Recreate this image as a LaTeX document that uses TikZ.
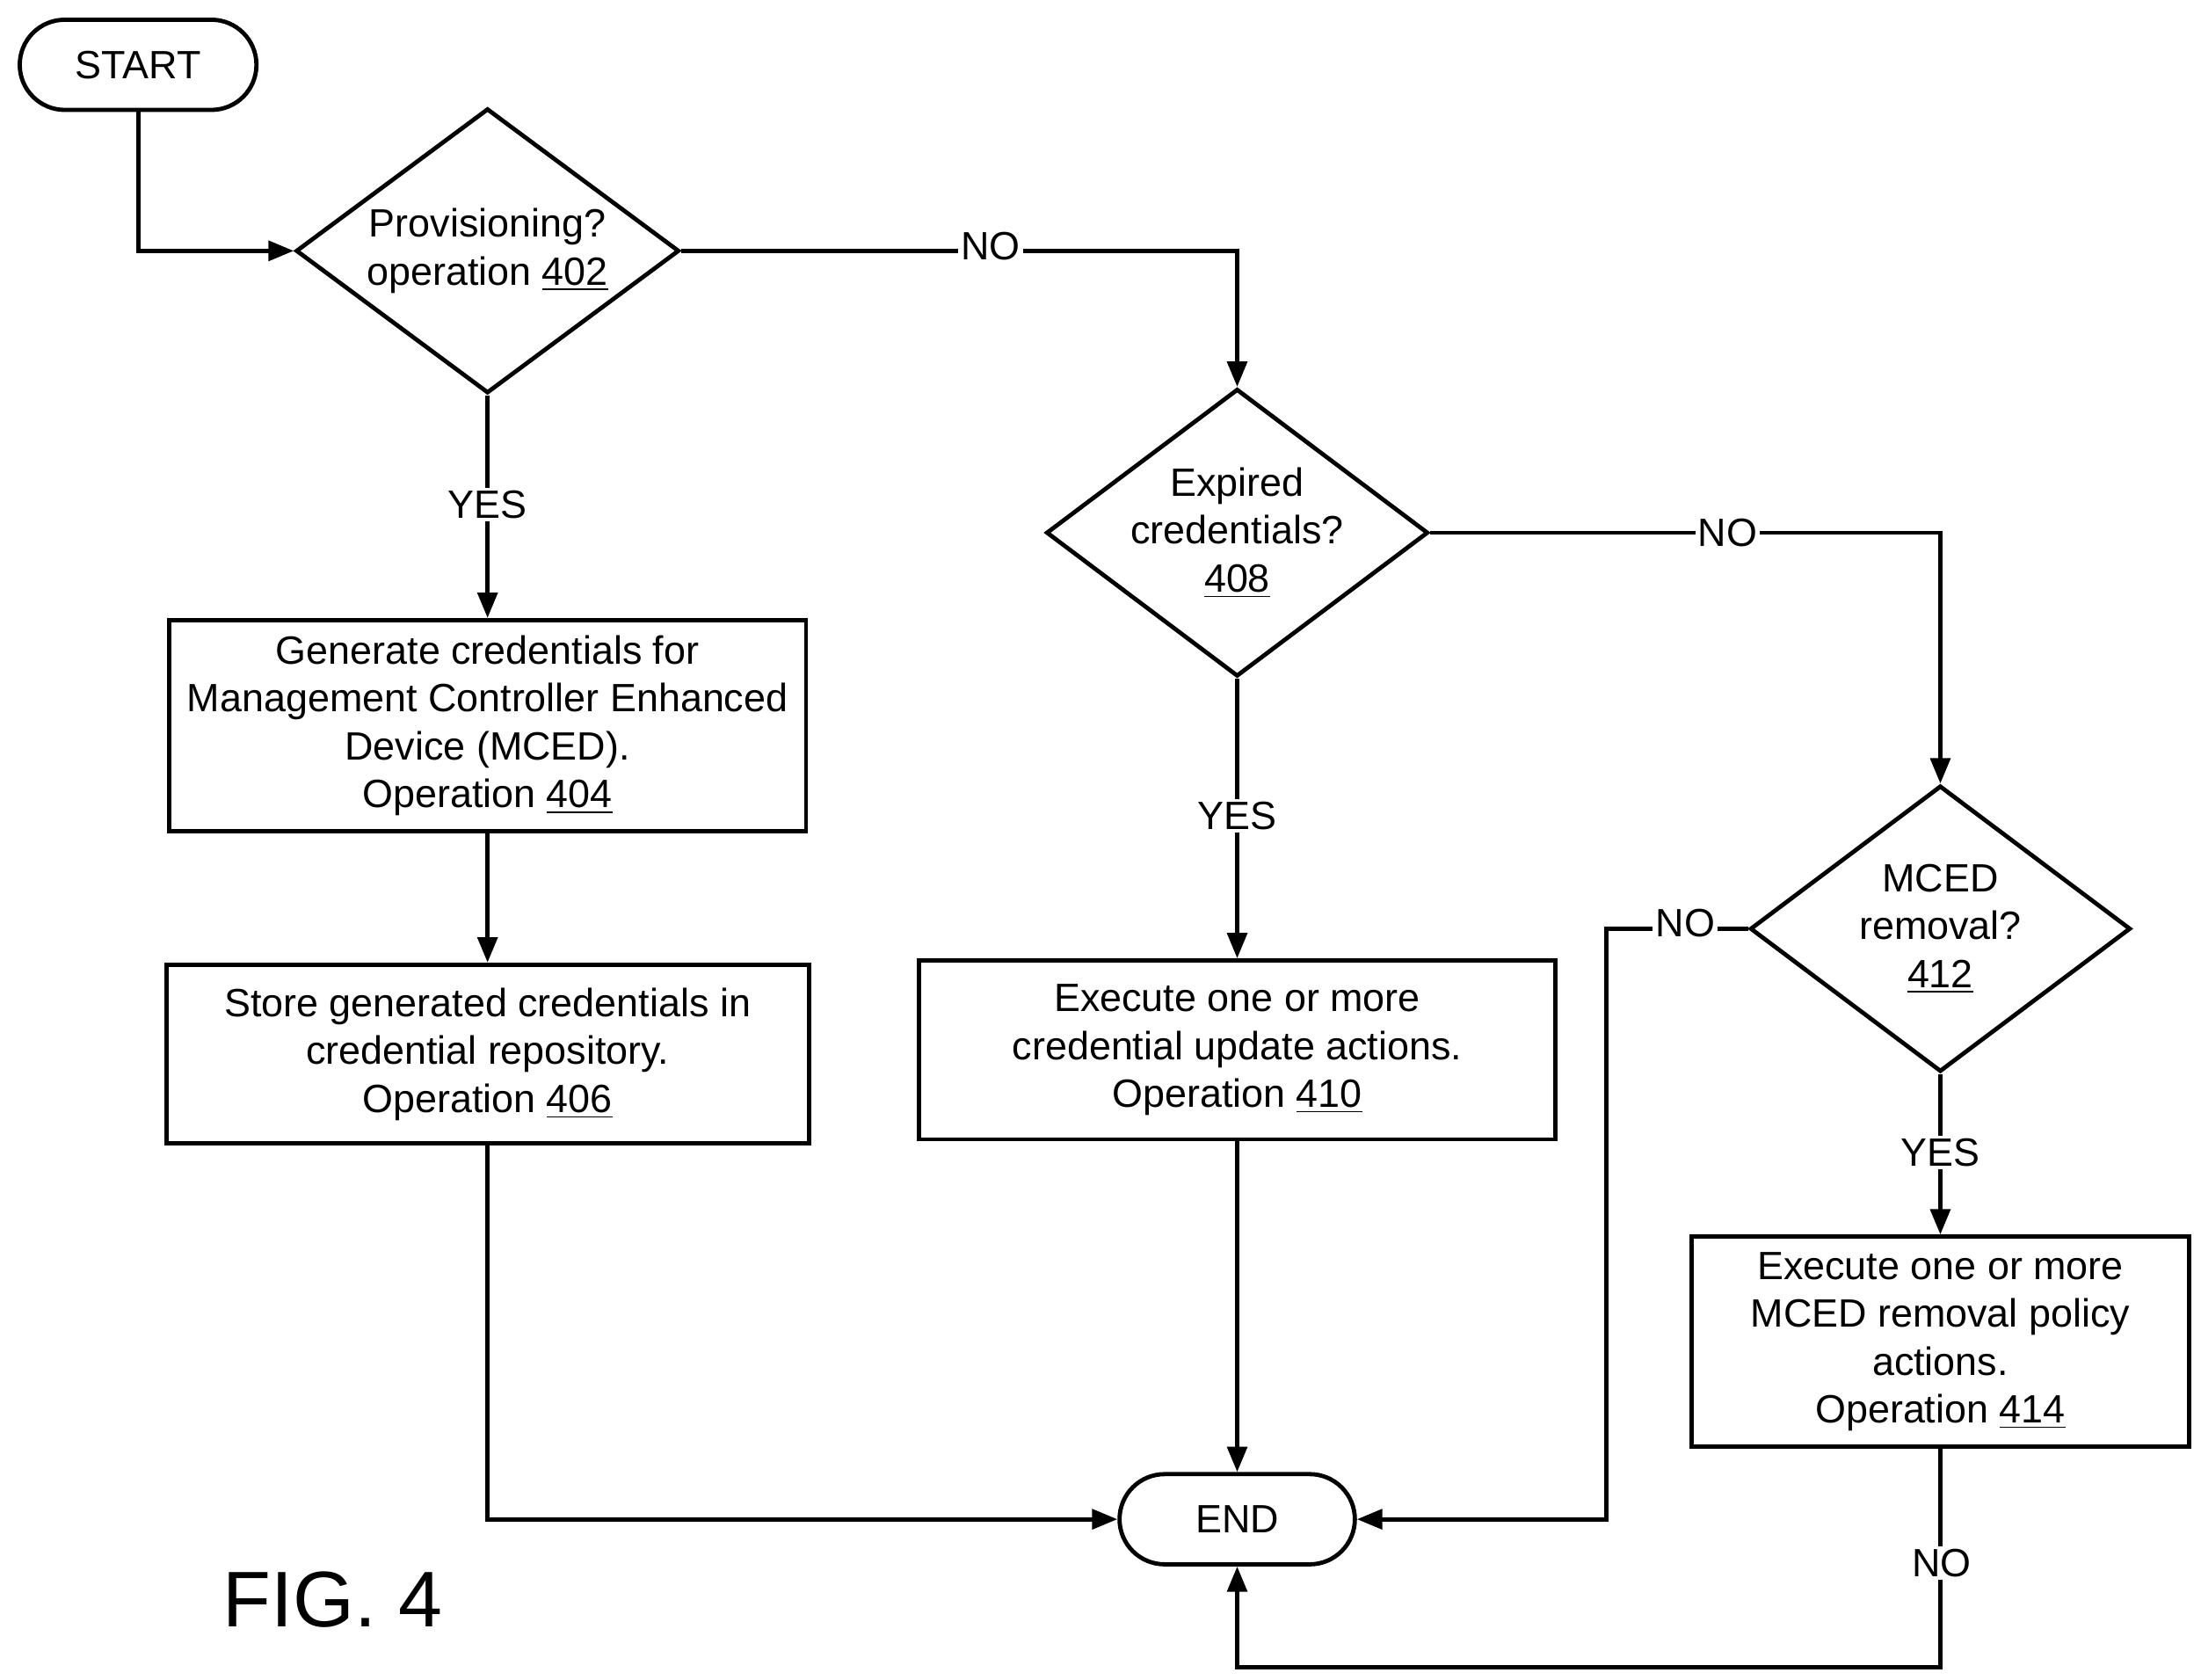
\documentclass[tikz,border=0pt]{standalone}
\usepackage{fontspec}
\setmainfont{Liberation Sans}
\usetikzlibrary{shapes.geometric,arrows.meta}
\begin{document}
\begin{tikzpicture}[x=0.5pt,y=-0.5pt,
  every node/.style={font=\fontsize{14}{17}\selectfont},
  ln/.style={line width=1.5pt},
  ar/.style={ln,-{Triangle[length=9pt,width=7pt]}},
  box/.style={draw,line width=1.5pt,inner sep=0pt,align=center},
  term/.style={draw,line width=1.5pt,rounded corners=16pt,inner sep=0pt},
  dia/.style={draw,diamond,line width=1.5pt,inner sep=0pt},
  lab/.style={fill=white,inner sep=1pt}]
\useasboundingbox (0,0) rectangle (1562,1192);
\node[term,minimum width=84pt,minimum height=32pt] (start) at (98,46) {START};
\node[dia,minimum width=136pt,minimum height=101pt] (d402) at (346,178) {};
\node[align=center] at (d402) {Provisioning?\\operation \underline{402}};
\node[box,minimum width=226pt,minimum height=75pt] (b404) at (346,515) {Generate credentials for\\Management Controller Enhanced\\Device (MCED).\\Operation \underline{404}};
\node[box,minimum width=228pt,minimum height=63.5pt] (b406) at (346,748) {Store generated credentials in\\credential repository.\\Operation \underline{406}};
\node[dia,minimum width=135.5pt,minimum height=102pt] (d408) at (878,378) {};
\node[align=center] at (d408) {Expired\\credentials?\\\underline{408}};
\node[box,minimum width=226pt,minimum height=63.5pt] (b410) at (878,745) {Execute one or more\\credential update actions.\\Operation \underline{410}};
\node[dia,minimum width=135pt,minimum height=101.5pt] (d412) at (1377,659) {};
\node[align=center] at (d412) {MCED\\removal?\\\underline{412}};
\node[box,minimum width=176.5pt,minimum height=74.5pt] (b414) at (1377,952) {Execute one or more\\MCED removal policy\\actions.\\Operation \underline{414}};
\node[term,minimum width=83.5pt,minimum height=32pt] (end) at (878,1078) {END};
\node[font=\fontsize{28}{32}\selectfont] (fig) at (236,1135) {FIG. 4};
\coordinate (c1) at (98,178);
\draw[ar] (start.south) -- (c1) -- (d402.west);
\coordinate (c2) at (878,178);
\draw[ar] (d402.east) -- (c2) -- (d408.north);
\node[lab] at (703,175) {NO};
\draw[ar] (d402.south) -- (b404.north);
\node[lab] at (346,358) {YES};
\draw[ar] (b404.south) -- (b406.north);
\coordinate (c3) at (346,1078);
\draw[ar] (b406.south) -- (c3) -- (end.west);
\coordinate (c4) at (1377,378);
\draw[ar] (d408.east) -- (c4) -- (d412.north);
\node[lab] at (1226,378) {NO};
\draw[ar] (d408.south) -- (b410.north);
\node[lab] at (878,579) {YES};
\draw[ar] (b410.south) -- (end.north);
\coordinate (c5) at (1140,659);
\coordinate (c6) at (1140,1078);
\draw[ar] (d412.west) -- (c5) -- (c6) -- (end.east);
\node[lab] at (1196,655) {NO};
\draw[ar] (d412.south) -- (b414.north);
\node[lab] at (1377,818) {YES};
\coordinate (c7) at (1377,1183);
\coordinate (c8) at (878,1183);
\draw[ar] (b414.south) -- (c7) -- (c8) -- (end.south);
\node[lab] at (1378,1109) {NO};
\end{tikzpicture}
\end{document}
